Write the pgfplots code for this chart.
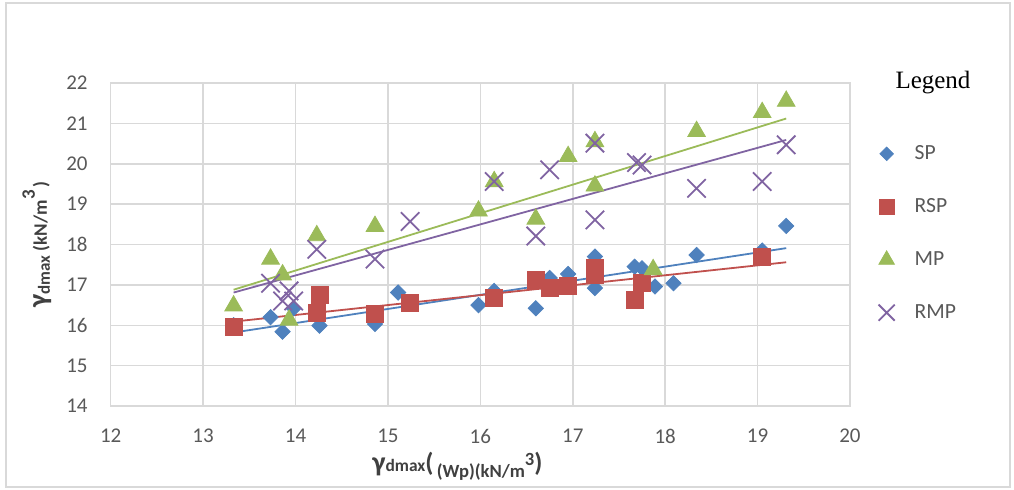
\documentclass[border=0pt]{standalone}
\usepackage{pgfplots}
\pgfplotsset{compat=1.18}
\usepackage{fontspec}
\setmainfont{Carlito}
\newfontfamily\legendserif{Liberation Serif}
\definecolor{cSP}{HTML}{4F81BD}
\definecolor{cRSP}{HTML}{C0504D}
\definecolor{cMP}{HTML}{9BBB59}
\definecolor{cRMP}{HTML}{8064A2}
\definecolor{gridc}{HTML}{D9D9D9}
\definecolor{tickc}{HTML}{595959}
\definecolor{labc}{HTML}{404040}
\begin{document}
\begin{tikzpicture}
\path[use as bounding box] (0,0) rectangle (507pt,244.5pt);
\draw[gridc, line width=0.75pt] (3pt,1pt) rectangle (505pt,243pt);
\node[font=\legendserif\fontsize{12.5}{14}\selectfont, text=black] at (466.5pt,203pt) {Legend};
\begin{axis}[
  at={(55.35pt,41.5pt)}, anchor=south west, scale only axis,
  width=369.65pt, height=161.5pt,
  xmin=12, xmax=20, ymin=14, ymax=22,
  xtick={12,13,...,20}, ytick={14,15,...,22},
  grid=major, grid style={gridc, line width=0.75pt},
  axis line style={gridc, line width=0.75pt},
  major tick length=0pt,
  tick label style={font=\fontsize{10.5}{12}\selectfont, text=tickc},
  /pgf/number format/assume math mode=true,
  yticklabel style={xshift=-8pt},
  xticklabel style={yshift=-8pt},
  xlabel={\bfseries{\fontsize{14}{14}\selectfont γ}{\fontsize{8.7}{9}\selectfont dmax}{\fontsize{13}{13}\selectfont(}\,{\fontsize{9.3}{9}\selectfont\raisebox{-3pt}{(Wp)(kN/m}\raisebox{3pt}{3}}{\fontsize{13}{13}\selectfont)}},
  xlabel style={at={(axis description cs:0.469,0)}, anchor=center, yshift=-30pt, text=labc},
  ylabel={\bfseries{\fontsize{14}{14}\selectfont γ}{\fontsize{8.5}{9}\selectfont\raisebox{-1.5pt}{dmax}}\ {\fontsize{9.5}{10}\selectfont(kN/m\raisebox{6pt}{3}\,)}},
  ylabel style={at={(axis description cs:-0.1,0.5)}, anchor=center, text=labc},
  legend style={at={(axis description cs:1.03,0.833)}, anchor=north west, draw=none, fill=none, font=\fontsize{10.8}{12}\selectfont, text=tickc, row sep=14pt, column sep=8pt},
  legend image post style={scale=0.88},
  legend cell align=left,
]
\addplot[only marks, mark=square*, mark size=2.7pt, mark options={rotate=45, fill=cSP, draw=cSP}] table {
x y
13.33 16.00
13.73 16.20
13.86 15.84
13.98 16.42
14.26 15.99
14.86 16.03
15.11 16.81
15.98 16.50
16.15 16.85
16.60 16.42
16.75 17.17
16.95 17.27
17.24 17.70
17.24 16.92
17.67 17.45
17.75 17.41
17.89 16.96
18.09 17.04
18.34 17.74
19.05 17.85
19.31 18.46
};
\addlegendentry{SP}
\addplot[only marks, mark=square*, mark size=4.2pt, mark options={fill=cRSP, draw=cRSP}] table {
x y
13.33 15.95
14.23 16.30
14.26 16.75
14.86 16.28
15.24 16.56
16.15 16.67
16.60 17.12
16.75 16.92
16.95 16.98
17.24 17.42
17.24 17.25
17.67 16.62
17.75 17.04
19.05 17.70
};
\addlegendentry{RSP}
\addplot[only marks, mark=triangle*, mark size=5.1pt, mark options={fill=cMP, draw=cMP}] table {
x y
13.33 16.48
13.73 17.64
13.86 17.25
13.93 16.13
14.23 18.22
14.86 18.45
15.98 18.83
16.15 19.56
16.60 18.63
16.95 20.18
17.24 20.55
17.24 19.45
17.87 17.38
18.34 20.80
19.05 21.27
19.31 21.55
};
\addlegendentry{MP}
\addplot[only marks, mark=x, mark size=6.5pt, mark options={draw=cRMP, line width=0.9pt}] table {
x y
13.73 17.04
13.86 16.60
13.93 16.85
13.98 16.60
14.23 17.88
14.86 17.64
15.24 18.57
16.15 19.56
16.60 18.21
16.75 19.85
17.24 20.51
17.24 18.61
17.69 20.03
17.75 19.97
18.34 19.39
19.05 19.56
19.31 20.47
};
\addlegendentry{RMP}
\addplot[forget plot, cMP, line width=0.9pt] coordinates {(13.33,16.88) (19.31,21.12)};
\addplot[forget plot, cRMP, line width=0.9pt] coordinates {(13.33,16.81) (19.31,20.59)};
\addplot[forget plot, cSP, line width=0.9pt] coordinates {(13.33,15.82) (19.31,17.91)};
\addplot[forget plot, cRSP, line width=0.9pt] coordinates {(13.33,16.09) (19.31,17.56)};
\end{axis}
\end{tikzpicture}
\end{document}
